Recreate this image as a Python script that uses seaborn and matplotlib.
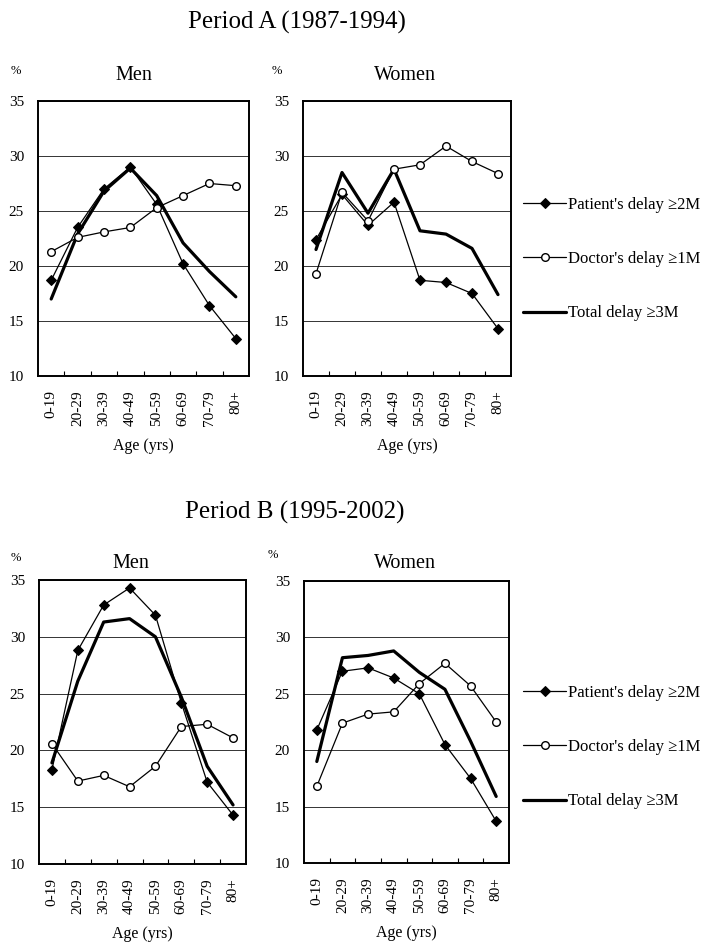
import pandas as pd
import seaborn as sns
import matplotlib.pyplot as plt

# 年龄组
ages = ["0-19", "20-29", "30-39", "40-49", "50-59", "60-69", "70-79", "80+"]

# Period A (1987-1994)
men_a_patient = [18.7, 23.5, 27.0, 29.0, 25.6, 20.2, 16.4, 13.4]
men_a_doctor = [21.3, 22.6, 23.1, 23.5, 25.3, 26.4, 27.5, 27.3]
men_a_total = [17.0, 22.9, 26.8, 28.9, 26.4, 22.1, 19.5, 17.2]
women_a_patient = [22.4, 26.5, 23.7, 25.8, 18.7, 18.5, 17.5, 14.3]
women_a_doctor = [19.3, 26.7, 24.1, 28.8, 29.2, 30.9, 29.5, 28.4]
women_a_total = [21.5, 28.5, 24.8, 28.8, 23.2, 22.9, 21.6, 17.4]

# Period B (1995-2002)
men_b_patient = [18.3, 28.8, 32.8, 34.3, 31.9, 24.2, 17.2, 14.3]
men_b_doctor = [20.6, 17.3, 17.8, 16.8, 18.6, 22.1, 22.3, 21.1]
men_b_total = [18.9, 26.1, 31.3, 31.6, 30.0, 24.7, 18.6, 15.2]
women_b_patient = [21.8, 27.0, 27.3, 26.4, 25.0, 20.5, 17.5, 13.7]
women_b_doctor = [16.8, 22.4, 23.2, 23.4, 25.9, 27.7, 25.7, 22.5]
women_b_total = [19.0, 28.2, 28.4, 28.8, 26.9, 25.4, 20.8, 15.9]

series_labels = ["Patient's delay \u22652M", "Doctor's delay \u22651M", "Total delay \u22653M"]

sns.set_style("white")
plt.rcParams['font.family'] = ['Liberation Serif', 'DejaVu Serif']
plt.rcParams['text.color'] = 'black'
plt.rcParams['axes.labelcolor'] = 'black'
plt.rcParams['xtick.color'] = 'black'
plt.rcParams['ytick.color'] = 'black'

W, H = 704, 947
fig = plt.figure(figsize=(W / 100, H / 100), dpi=100)


def rect(l, t, r, b):
    return [l / W, 1 - b / H, (r - l) / W, (b - t) / H]


def draw_panel(ax, patient, doctor, total):
    df = pd.DataFrame({"age": ages, "patient": patient, "doctor": doctor, "total": total})
    sns.lineplot(data=df, x="age", y="patient", ax=ax, sort=False, color="black",
                 linewidth=0.9, marker="D", markersize=5, markeredgecolor="black",
                 markerfacecolor="black", label=series_labels[0], zorder=4)
    sns.lineplot(data=df, x="age", y="doctor", ax=ax, sort=False, color="black",
                 linewidth=0.9, marker="o", markersize=5.5, markeredgecolor="black",
                 markeredgewidth=1.0, markerfacecolor="white", label=series_labels[1], zorder=4)
    sns.lineplot(data=df, x="age", y="total", ax=ax, sort=False, color="black",
                 linewidth=2.3, label=series_labels[2], zorder=3)
    if ax.get_legend() is not None:
        ax.get_legend().remove()
    ax.set_ylim(10, 35)
    ax.set_xlim(-0.5, len(ages) - 0.5)
    ax.set_yticks([10, 15, 20, 25, 30, 35])
    ax.yaxis.grid(True, color="#333333", linewidth=0.7)
    ax.set_axisbelow(True)
    ax.set_ylabel("")
    ax.set_xlabel("Age (yrs)", fontsize=11.5, labelpad=9)
    ax.set_xticks(range(len(ages)))
    ax.set_xticklabels(ages, rotation=90, fontsize=11)
    ax.set_xticks([i + 0.5 for i in range(len(ages) - 1)], minor=True)
    ax.tick_params(axis="x", which="major", length=0, pad=10)
    ax.tick_params(axis="x", which="minor", direction="in", length=3.5, width=0.8,
                   bottom=True, color="black")
    ax.tick_params(axis="y", length=0, pad=10, labelsize=11)
    for s in ax.spines.values():
        s.set_visible(True)
        s.set_color("black")
        s.set_linewidth(1.4)


panels = [
    (rect(38, 101, 249, 376), men_a_patient, men_a_doctor, men_a_total),
    (rect(303, 101, 511, 376), women_a_patient, women_a_doctor, women_a_total),
    (rect(39, 580, 246, 864), men_b_patient, men_b_doctor, men_b_total),
    (rect(304, 581, 509, 863), women_b_patient, women_b_doctor, women_b_total),
]
axes = []
for r, p, d, t in panels:
    ax = fig.add_axes(r)
    draw_panel(ax, p, d, t)
    axes.append(ax)

# 标题和文字
fig.text(297 / W, 1 - 22 / H, "Period A (1987-1994)", ha="center", va="center", fontsize=18)
fig.text(295 / W, 1 - 512 / H, "Period B (1995-2002)", ha="center", va="center", fontsize=18)
for x, y, s in [(134, 75, "Men"), (405, 75, "Women"), (131, 563, "Men"), (405, 563, "Women")]:
    fig.text(x / W, 1 - y / H, s, ha="center", va="center", fontsize=14.5)
for x, y in [(16, 71), (277, 71), (16, 558), (273, 555)]:
    fig.text(x / W, 1 - y / H, "%", ha="center", va="center", fontsize=9)

# 图例
handles, labels = axes[0].get_legend_handles_labels()
for cy in [259, 747]:
    fig.legend(handles, labels, loc="center left", bbox_to_anchor=(523 / W, 1 - cy / H),
               frameon=False, fontsize=12, labelspacing=2.3, handlelength=2.6,
               handletextpad=0.1, borderpad=0, borderaxespad=0)

plt.savefig("out.png", dpi=100)
